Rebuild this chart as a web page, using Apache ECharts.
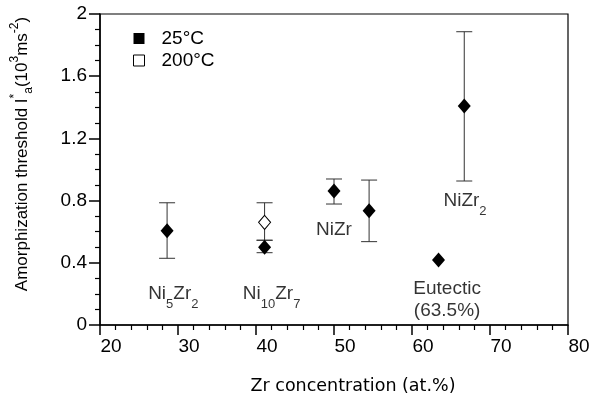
<!DOCTYPE html>
<html>
<head>
<meta charset="utf-8">
<script src="https://cdn.jsdelivr.net/npm/echarts@6/dist/echarts.min.js"></script>
<style>
  html, body { margin: 0; padding: 0; background: #fff; }
  #chart { width: 595px; height: 400px; }
</style>
</head>
<body>
<div id="chart"></div>
<script>
// Zr concentration (at.%) and amorphization threshold (10^3 m s^-2)
const roomTempX    = [28.6, 41.1, 50.0, 54.5, 63.4, 66.7];
const roomTempY    = [0.606, 0.500, 0.862, 0.735, 0.418, 1.408];
const roomTempLow  = [0.429, 0.465, 0.778, 0.536, null, 0.926];
const roomTempHigh = [0.786, 0.545, 0.939, 0.932, null, 1.886];

const hotX    = [41.1];
const hotY    = [0.660];
const hotLow  = [0.545];
const hotHigh = [0.786];

// Phase annotations (rich text markup, anchor in data units)
const phaseText = ['Ni{s|5}Zr{s|2}', 'Ni{s|10}Zr{s|7}', 'NiZr', 'NiZr{s|2}', 'Eutectic\n(63.5%)'];
const phaseX    = [29.4, 42.0, 50.0, 66.8, 64.5];
const phaseY    = [0.200, 0.200, 0.610, 0.800, 0.160];

const yTicks = [0, 0.4, 0.8, 1.2, 1.6, 2];

const FONT = 'Liberation Sans, Arial, Helvetica, sans-serif';

function errorBarData(xs, lo, hi) {
  const out = [];
  xs.forEach((x, i) => { if (lo[i] != null) out.push([x, lo[i], hi[i]]); });
  return out;
}

function renderErrorBar(params, api) {
  const x = api.value(0);
  const top = api.coord([x, api.value(2)]);
  const bot = api.coord([x, api.value(1)]);
  const half = 8;
  const style = { stroke: '#333', lineWidth: 1 };
  return {
    type: 'group',
    children: [
      { type: 'line', shape: { x1: top[0], y1: top[1], x2: bot[0], y2: bot[1] }, style },
      { type: 'line', shape: { x1: top[0] - half, y1: top[1], x2: top[0] + half, y2: top[1] }, style },
      { type: 'line', shape: { x1: bot[0] - half, y1: bot[1], x2: bot[0] + half, y2: bot[1] }, style }
    ]
  };
}

const chart = echarts.init(document.getElementById('chart'), null, { renderer: 'canvas' });

chart.setOption({
  animation: false,
  backgroundColor: '#fff',
  grid: {
    left: 100, right: 27, top: 14, bottom: 75,
    containLabel: false, outerBoundsMode: 'none',
    show: true, borderColor: '#000', borderWidth: 1.2
  },
  legend: {
    orient: 'vertical',
    left: 133, top: 29, padding: 0,
    itemWidth: 11, itemHeight: 11, itemGap: 3,
    textStyle: { fontFamily: FONT, fontSize: 19, color: '#000', padding: [0, 0, 0, 12] },
    data: [
      { name: '25°C', icon: 'rect', itemStyle: { color: '#000', borderWidth: 0 } },
      { name: '200°C', icon: 'rect', itemStyle: { color: '#fff', borderColor: '#000', borderWidth: 1 } }
    ]
  },
  xAxis: {
    type: 'value', min: 20, max: 80, interval: 10,
    axisLine: { lineStyle: { color: '#000', width: 1.5 } },
    axisTick: { inside: false, length: 10, lineStyle: { color: '#000', width: 1.5 } },
    minorTick: { show: true, splitNumber: 5, length: 5, lineStyle: { color: '#000', width: 1.2 } },
    splitLine: { show: false },
    // labels sit just to the right of their tick
    axisLabel: { fontFamily: FONT, fontSize: 19, color: '#000', margin: 12, padding: [0, 0, 0, 22] }
  },
  yAxis: {
    type: 'value', min: 0, max: 2, interval: 0.4,
    axisLine: { lineStyle: { color: '#000', width: 1.5 } },
    axisTick: { inside: false, length: 11, lineStyle: { color: '#000', width: 1.5 } },
    minorTick: { show: true, splitNumber: 4, length: 5, lineStyle: { color: '#000', width: 1.2 } },
    splitLine: { show: false },
    axisLabel: {
      fontFamily: FONT, fontSize: 19, color: '#000', margin: 13,
      formatter: v => {
        const t = yTicks.find(k => Math.abs(k - v) < 1e-6);
        return t === undefined ? '' : String(t);
      }
    }
  },
  graphic: [
    {
      type: 'text',
      x: 22, y: 154,
      rotation: Math.PI / 2,
      style: {
        text: 'Amorphization threshold I{sp|*}{sb|a}(10{sp|3}ms{sp|-2})',
        fontFamily: FONT, fontSize: 17, fill: '#000',
        align: 'center', verticalAlign: 'middle',
        lineHeight: 26,
        rich: {
          sp: { fontFamily: FONT, fontSize: 12, verticalAlign: 'top', lineHeight: 26, fill: '#000' },
          sb: { fontFamily: FONT, fontSize: 12, verticalAlign: 'bottom', lineHeight: 26, fill: '#000' }
        }
      }
    },
    {
      type: 'text',
      x: 353, y: 386,
      style: {
        text: 'Zr concentration (at.%)',
        fontFamily: 'DejaVu Sans, sans-serif', fontSize: 17.5, fill: '#000',
        align: 'center', verticalAlign: 'middle'
      }
    }
  ],
  series: [
    {
      name: 'bars25', type: 'custom', renderItem: renderErrorBar,
      data: errorBarData(roomTempX, roomTempLow, roomTempHigh), z: 1, silent: true
    },
    {
      name: 'bars200', type: 'custom', renderItem: renderErrorBar,
      data: errorBarData(hotX, hotLow, hotHigh), z: 1, silent: true
    },
    {
      name: '25°C', type: 'scatter', symbol: 'diamond', symbolSize: [13, 15],
      itemStyle: { color: '#000', opacity: 1 },
      data: roomTempX.map((x, i) => [x, roomTempY[i]]), z: 3
    },
    {
      name: '200°C', type: 'scatter', symbol: 'diamond', symbolSize: [12, 14],
      itemStyle: { color: '#fff', borderColor: '#000', borderWidth: 1, opacity: 1 },
      data: hotX.map((x, i) => [x, hotY[i]]), z: 3
    },
    {
      name: 'phases', type: 'scatter', symbolSize: 0, silent: true,
      data: phaseX.map((x, i) => ({ value: [x, phaseY[i]], text: phaseText[i] })),
      label: {
        show: true, position: 'inside',
        formatter: p => p.data.text,
        fontFamily: FONT, fontSize: 19, color: '#000', lineHeight: 22, align: 'center',
        rich: {
          s: { fontFamily: FONT, fontSize: 13, color: '#000', verticalAlign: 'bottom', lineHeight: 22, padding: [0, 0, -6, 0] }
        }
      },
      z: 4
    }
  ]
});
</script>
</body>
</html>
